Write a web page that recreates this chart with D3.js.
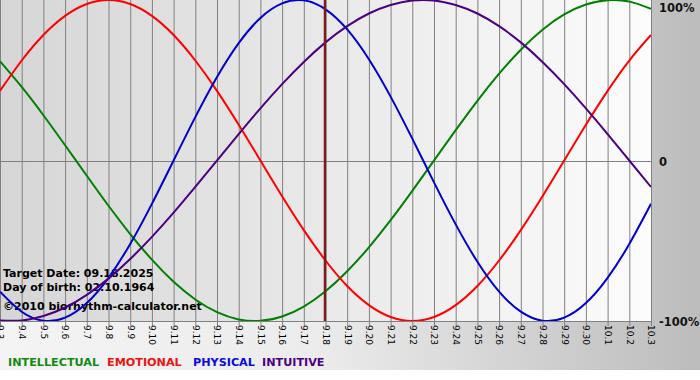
<!DOCTYPE html>
<html><head><meta charset="utf-8">
<script src="https://cdn.jsdelivr.net/npm/d3@7/dist/d3.min.js"></script>
<style>html,body{margin:0;padding:0;background:#fff}svg{display:block}</style>
</head><body>
<script>
const dates = ["9.3","9.4","9.5","9.6","9.7","9.8","9.9","9.10","9.11","9.12","9.13","9.14","9.15","9.16","9.17","9.18","9.19","9.20","9.21","9.22","9.23","9.24","9.25","9.26","9.27","9.28","9.29","9.30","10.1","10.2","10.3"];
const intellectual = [61.8,45.8,28.2,9.5,-9.5,-28.2,-45.8,-61.8,-75.6,-86.6,-94.5,-99.0,-99.9,-97.2,-91.0,-81.5,-69.0,-54.1,-37.2,-18.9,0,18.9,37.2,54.1,69.0,81.5,91.0,97.2,99.9,99.0,94.5];
const emotional = [43.4,62.3,78.2,90.1,97.5,100,97.5,90.1,78.2,62.3,43.4,22.3,0,-22.3,-43.4,-62.3,-78.2,-90.1,-97.5,-100,-97.5,-90.1,-78.2,-62.3,-43.4,-22.3,0,22.3,43.4,62.3,78.2];
const physical = [-81.7,-94.2,-99.8,-97.9,-88.8,-73.1,-52.0,-27.0,0,27.0,52.0,73.1,88.8,97.9,99.8,94.2,81.7,63.1,39.8,13.6,-13.6,-39.8,-63.1,-81.7,-94.2,-99.8,-97.9,-88.8,-73.1,-52.0,-27.0];
const intuitive = [-99.7,-99.7,-96.9,-91.6,-83.7,-73.6,-61.4,-47.6,-32.5,-16.5,0,16.5,32.5,47.6,61.4,73.6,83.7,91.6,96.9,99.7,99.7,96.9,91.6,83.7,73.6,61.4,47.6,32.5,16.5,0,-16.5];
const seriesNames = ["INTELLECTUAL","EMOTIONAL","PHYSICAL","INTUITIVE"];
const yTicks = [100,0,-100];
const yTickLabels = ["100%","0","-100%"];
const targetDate = "9.18";
const infoLines = ["Target Date: 09.18.2025","Day of birth: 02.10.1964","\u00a92010 biorhythm-calculator.net"];

const W=700,H=380, PW=651, PH=321;
const colors = ["#008000","#ff0000","#0000cc","#4b0082"];
const legendColors = ["#118a11","#ee1111","#0a0ae0","#4b0082"];
const allSeries=[intellectual,emotional,physical,intuitive];

const svg=d3.select("body").append("svg").attr("width",W).attr("height",H);
const defs=svg.append("defs");
const og=defs.append("linearGradient").attr("id","og").attr("x1","0").attr("x2","1").attr("y1","0").attr("y2","0");
og.append("stop").attr("offset","0").attr("stop-color","#f4f4f4");
og.append("stop").attr("offset","0.45").attr("stop-color","#ececec");
og.append("stop").attr("offset","1").attr("stop-color","#bcbcbc");
const pg=defs.append("linearGradient").attr("id","pg").attr("x1","0").attr("x2","1").attr("y1","0").attr("y2","0");
pg.append("stop").attr("offset","0").attr("stop-color","#d6d6d6");
pg.append("stop").attr("offset","1").attr("stop-color","#fcfcfc");
defs.append("clipPath").attr("id","clip").append("rect").attr("x",0).attr("y",0).attr("width",PW).attr("height",PH);

svg.append("rect").attr("x",0).attr("y",0).attr("width",W).attr("height",370).attr("fill","url(#og)");
svg.append("rect").attr("x",0).attr("y",0).attr("width",PW).attr("height",PH).attr("fill","url(#pg)");

const x=d3.scalePoint().domain(dates).range([0,PW]);
const y=d3.scaleLinear().domain([-100,100]).range([PH,0]);

// vertical grid
svg.append("g").selectAll("line").data(dates).join("line")
  .attr("x1",d=>x(d)+0.5).attr("x2",d=>x(d)+0.5).attr("y1",0).attr("y2",PH+5)
  .attr("stroke","#808080").attr("stroke-width",1);
// horizontal zero and bottom
svg.append("line").attr("x1",0).attr("x2",PW).attr("y1",Math.round(y(0))+0.5).attr("y2",Math.round(y(0))+0.5).attr("stroke","#808080");
svg.append("line").attr("x1",0).attr("x2",PW+1).attr("y1",PH+0.5).attr("y2",PH+0.5).attr("stroke","#808080");

// x tick labels rotated
svg.append("g").selectAll("text").data(dates).join("text")
  .attr("transform",d=>`translate(${x(d)+0.5},${PH+4}) rotate(90)`)
  .attr("dy","0.35em").attr("font-family","DejaVu Sans, Verdana, sans-serif").attr("font-size","9px")
  .attr("fill","#000").text(d=>d);

// info text (under curves)
const info=svg.append("g").attr("font-family","DejaVu Sans, Verdana, sans-serif").attr("font-weight","bold").attr("font-size","11px").attr("fill","#000");
[277,291,310].forEach((yy,i)=>info.append("text").attr("x",3).attr("y",yy).text(infoLines[i]));

// curves
const line=d3.line().x((d,i)=>x(dates[i])).y(d=>y(d)).curve(d3.curveNatural);
const cg=svg.append("g").attr("clip-path","url(#clip)");
allSeries.forEach((s,i)=>cg.append("path").attr("d",line(s)).attr("fill","none").attr("stroke",colors[i]).attr("stroke-width",2));

// target line
svg.append("line").attr("x1",x(targetDate)-0.5).attr("x2",x(targetDate)-0.5).attr("y1",0).attr("y2",PH)
  .attr("stroke","#7a1c1c").attr("stroke-width",2.5);

// y labels
const yPos=[12,166,326];
svg.append("g").selectAll("text").data(yTicks).join("text")
  .attr("x",659).attr("y",(d,i)=>yPos[i])
  .attr("font-family","DejaVu Sans, Verdana, sans-serif").attr("font-weight","bold").attr("font-size","11.5px")
  .attr("fill","#111").text((d,i)=>yTickLabels[i]);

// legend
const legendX=[8,107,193,262];
svg.append("g").selectAll("text").data(seriesNames).join("text")
  .attr("x",(d,i)=>legendX[i]).attr("y",366)
  .attr("font-family","DejaVu Sans, Verdana, sans-serif").attr("font-weight","bold").attr("font-size","11.2px")
  .attr("fill",(d,i)=>legendColors[i]).text(d=>d);
</script>
</body></html>
